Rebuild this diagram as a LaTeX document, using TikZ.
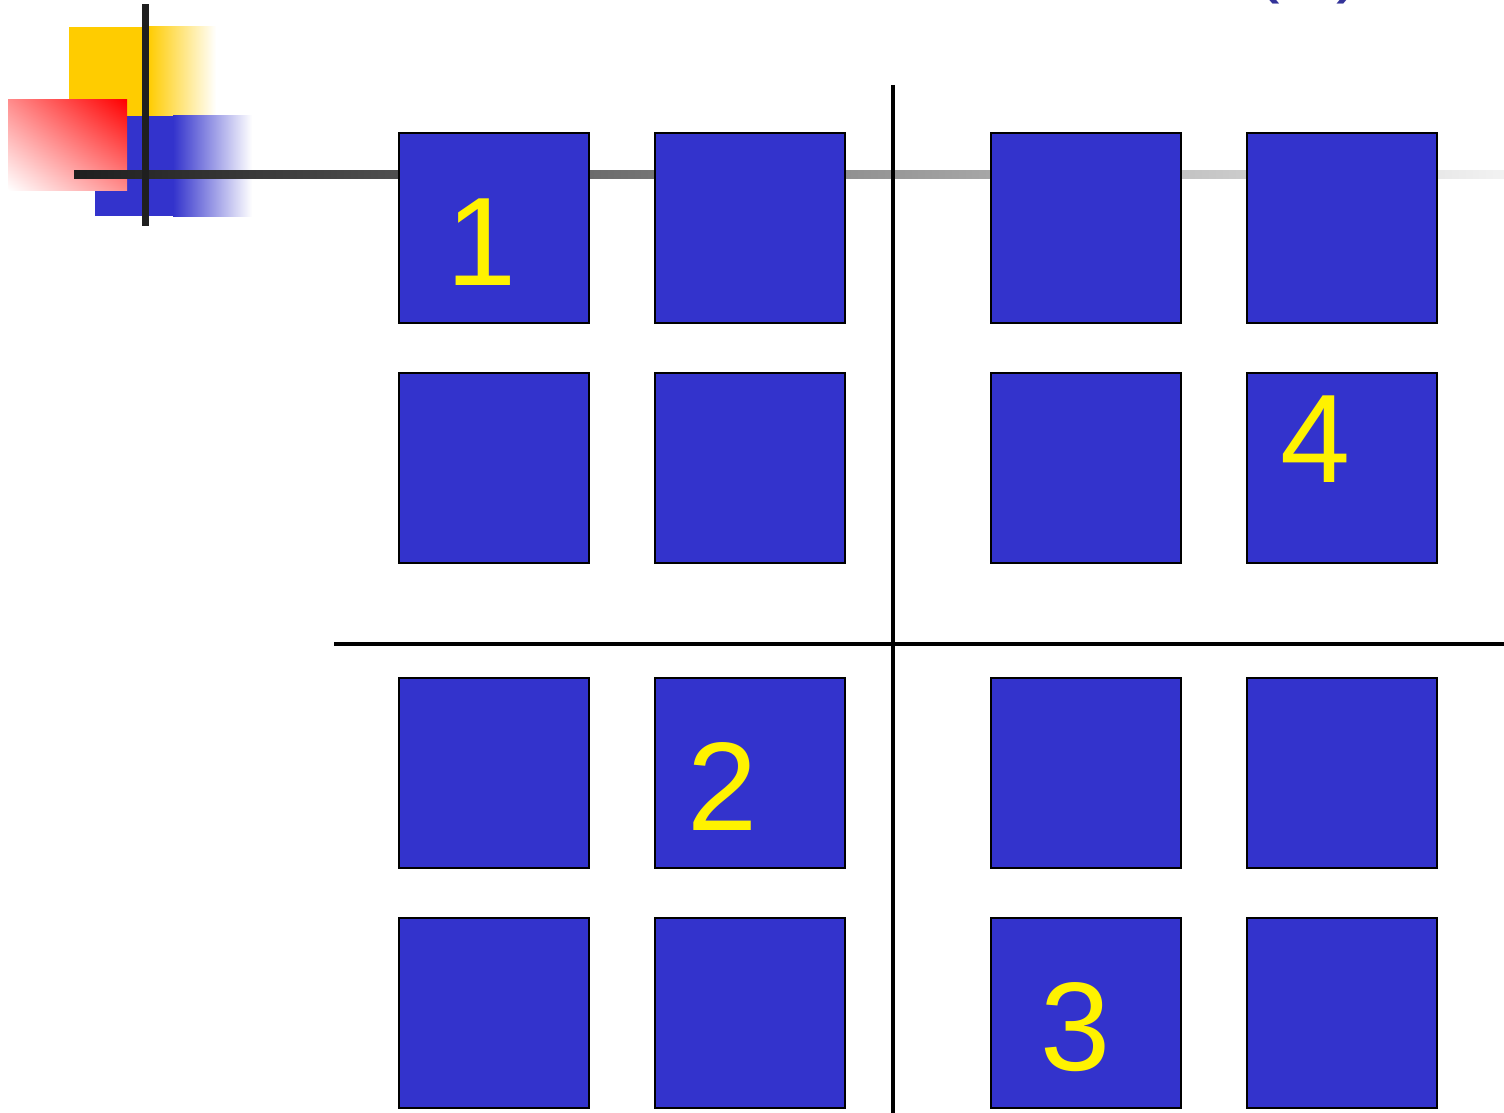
\documentclass[tikz,border=0pt]{standalone}
\usepackage{fontspec}
\setmainfont{Liberation Sans}
\usetikzlibrary{shadings}
\definecolor{tileblue}{RGB}{51,51,204}
\definecolor{titleblue}{RGB}{51,51,153}
\definecolor{logoyellow}{RGB}{255,204,0}
\tikzset{
  tile/.style={draw=black, line width=1pt, fill=tileblue, minimum size=95pt, inner sep=0pt},
  tilenum/.style={anchor=base, text=yellow, font=\fontsize{63}{63}\selectfont},
}
\begin{document}
\begin{tikzpicture}[x=0.5pt, y=-0.5pt]
  \useasboundingbox (0,0) rectangle (1504,1113);

  % logo in the corner
  \fill[logoyellow] (69,27) rectangle (149,116);
  \shade[left color=logoyellow, right color=white] (148,27) rectangle (216,116);
  \fill[tileblue] (95,116) rectangle (174,216);
  \shade[left color=tileblue, right color=white] (173,116) rectangle (252,216);
  \shade[upper right=red, lower left=white, upper left=red!45, lower right=red!45] (8,100) rectangle (127,190);

  % gray rule under the title
  \shade[left color=black!88, right color=black!5] (74,170) rectangle (1504,178);
  \fill[black!88] (142,4) rectangle (149,226);

  % title (cut off at the top)
  \node[anchor=base, text=titleblue, font=\fontsize{40}{40}\selectfont] (title) at (1308,-12) {(\hspace{28pt})};

  % dividing lines
  \draw[line width=2pt] (893,85) -- (893,1113);
  \draw[line width=2pt] (334,644) -- (1504,644);

  % the sixteen tiles
  \foreach \r/\y in {1/228, 2/468, 3/773, 4/1013}
    \foreach \c/\x in {1/494, 2/750, 3/1086, 4/1342}
      \node[tile] (t\r\c) at (\x,\y) {};

  % numbers
  \node[tilenum] (n1) at (482,285) {1};
  \node[tilenum] (n2) at (723,830) {2};
  \node[tilenum] (n3) at (1076,1070) {3};
  \node[tilenum] (n4) at (1316,482) {4};
\end{tikzpicture}
\end{document}
